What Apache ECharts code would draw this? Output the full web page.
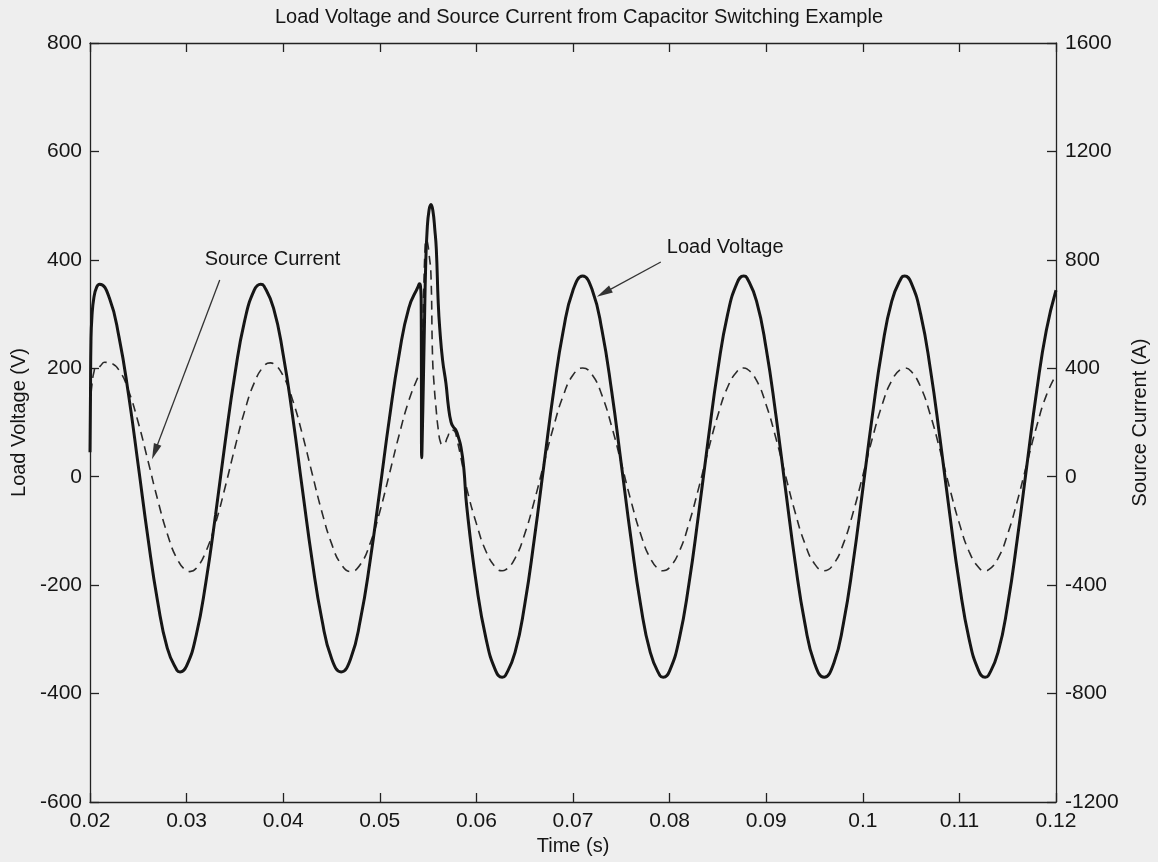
<!DOCTYPE html>
<html>
<head>
<meta charset="utf-8">
<title>Load Voltage and Source Current from Capacitor Switching Example</title>
<script src="https://cdn.jsdelivr.net/npm/echarts@6/dist/echarts.min.js"></script>
<style>
  html, body { margin: 0; padding: 0; background: #eeeeee; }
  #chart { width: 1158px; height: 862px; }
</style>
</head>
<body>
<div id="chart"></div>
<script>
// Load voltage samples (s, V)
const voltageTime = [
  0.0200, 0.02005, 0.0201, 0.0202, 0.0204, 0.0207, 0.0210,
  0.022, 0.023, 0.024, 0.025, 0.026, 0.027, 0.028, 0.029, 0.02933, 0.030, 0.031,
  0.032, 0.033, 0.034, 0.035, 0.036, 0.037, 0.03767, 0.038, 0.039, 0.040, 0.041,
  0.042, 0.043, 0.044, 0.045, 0.046, 0.047, 0.048, 0.049, 0.050, 0.051,
  0.052, 0.053, 0.054,
  0.0541, 0.0542, 0.05428, 0.05434, 0.05445, 0.0546, 0.05475, 0.0549, 0.0551,
  0.0553, 0.0555, 0.0557, 0.05585, 0.05605, 0.0562, 0.0565, 0.05685, 0.0571,
  0.05737, 0.0576, 0.05788, 0.0581, 0.0584, 0.0587,
  0.059, 0.060, 0.061, 0.062, 0.06267, 0.063, 0.064, 0.065, 0.066, 0.067, 0.068, 0.069,
  0.070, 0.071, 0.072, 0.073, 0.074, 0.075, 0.076, 0.077, 0.078, 0.079, 0.07933,
  0.080, 0.081, 0.082, 0.083, 0.084, 0.085, 0.086, 0.087, 0.08767, 0.088, 0.089,
  0.090, 0.091, 0.092, 0.093, 0.094, 0.095, 0.096, 0.097, 0.098, 0.099,
  0.100, 0.101, 0.102, 0.103, 0.104, 0.10433, 0.105, 0.106, 0.107, 0.108, 0.109,
  0.110, 0.111, 0.112, 0.11267, 0.113, 0.114, 0.115, 0.116, 0.117, 0.118, 0.119, 0.120
];
const voltageValues = [
  45, 150, 250, 295, 330, 350, 355,
  330, 258, 150, 20, -113, -230, -316, -357, -360, -349, -292,
  -194, -70, 65, 189, 287, 344, 355, 352, 311, 225, 108,
  -25, -155, -263, -335, -360, -335, -263, -155, -25, 108,
  225, 311, 352,
  356, 353, 330, 35, 120, 260, 390, 455, 492,
  502, 490, 455, 420, 320, 275, 215, 172, 130,
  101, 92, 86, 75, 55, 15,
  -55, -198, -299, -358, -370, -367, -324, -236, -114, 23, 158, 270,
  344, 370, 344, 270, 158, 23, -114, -236, -324, -367, -370,
  -358, -299, -198, -69, 69, 198, 299, 358, 370, 367, 324,
  236, 114, -23, -158, -270, -344, -370, -344, -270, -158,
  -23, 114, 236, 324, 367, 370, 358, 299, 198, 69, -69,
  -198, -299, -358, -370, -367, -324, -236, -114, 23, 158, 270, 344
];

// Source current samples (s, A)
const currentTime = [
  0.0200, 0.0202, 0.0204, 0.0206, 0.0208, 0.0211, 0.0215,
  0.022, 0.023, 0.024, 0.025, 0.026, 0.027, 0.028, 0.029, 0.030, 0.03033, 0.031,
  0.032, 0.033, 0.034, 0.035, 0.036, 0.037, 0.038, 0.03867, 0.039, 0.040, 0.041,
  0.042, 0.043, 0.044, 0.045, 0.046, 0.047, 0.048, 0.049, 0.050, 0.051,
  0.052, 0.053, 0.054,
  0.0542, 0.0543, 0.0544, 0.05455, 0.0547, 0.0548, 0.05495, 0.0551, 0.05529,
  0.05546, 0.0556, 0.05581, 0.05605, 0.05632, 0.0566, 0.0570, 0.0574, 0.0577,
  0.0580, 0.0584, 0.0587,
  0.059, 0.060, 0.061, 0.062, 0.06267, 0.063, 0.064, 0.065, 0.066, 0.067, 0.068, 0.069,
  0.070, 0.071, 0.072, 0.073, 0.074, 0.075, 0.076, 0.077, 0.078, 0.079, 0.07933,
  0.080, 0.081, 0.082, 0.083, 0.084, 0.085, 0.086, 0.087, 0.08767, 0.088, 0.089,
  0.090, 0.091, 0.092, 0.093, 0.094, 0.095, 0.096, 0.097, 0.098, 0.099,
  0.100, 0.101, 0.102, 0.103, 0.104, 0.10433, 0.105, 0.106, 0.107, 0.108, 0.109,
  0.110, 0.111, 0.112, 0.11267, 0.113, 0.114, 0.115, 0.116, 0.117, 0.118, 0.119, 0.120
];
const currentValues = [
  255, 340, 385, 402, 400, 410, 422,
  420, 393, 316, 199, 59, -84, -210, -302, -347, -350, -338,
  -276, -171, -37, 107, 241, 346, 408, 420, 417, 372, 280,
  154, 11, -129, -246, -323, -350, -323, -246, -129, 11,
  154, 280, 372,
  385, 388, 470, 690, 850, 875, 862, 820, 750,
  443, 350, 258, 175, 123, 118, 145, 172, 170,
  135, 70, 15,
  -43, -173, -276, -335, -347, -344, -301, -211, -89, 50, 186, 300,
  375, 401, 375, 300, 186, 50, -89, -211, -301, -344, -347,
  -335, -276, -173, -43, 97, 227, 330, 389, 401, 398, 355,
  265, 143, 4, -132, -246, -321, -347, -321, -246, -132,
  4, 143, 265, 355, 398, 401, 389, 330, 227, 97, -43,
  -173, -276, -335, -347, -344, -301, -211, -89, 50, 186, 300, 375
];

// Axis ranges and tick steps
const timeRange = [0.02, 0.12, 0.01];
const voltageRange = [-600, 800, 200];
const currentRange = [-1200, 1600, 400];

// Annotations: [text, label anchor [t, V], arrow start [t, V], arrow tip [t, V]]
const notes = [
  ['Source Current', [0.03188, 400], [0.03343, 363], [0.02671, 46]],
  ['Load Voltage', [0.07971, 422], [0.07909, 396], [0.0732, 339]]
];

const FONT = '"Liberation Sans", Arial, Helvetica, sans-serif';
const INK = '#151515';

function zip(xs, ys) { return xs.map((x, i) => [x, ys[i]]); }

const chart = echarts.init(document.getElementById('chart'), null, { renderer: 'canvas' });

const tickLabel = { fontFamily: FONT, fontSize: 21, color: INK };
const axisLine = { show: true, onZero: false, lineStyle: { color: '#222', width: 1.3 } };
const axisTick = { show: true, inside: true, length: 9, lineStyle: { color: '#222', width: 1.3 } };
const nameStyle = { fontFamily: FONT, fontSize: 20, color: INK };

chart.setOption({
  backgroundColor: '#eeeeee',
  animation: false,
  title: {
    text: 'Load Voltage and Source Current from Capacitor Switching Example',
    left: 574,
    textAlign: 'center',
    top: 2,
    textStyle: { fontFamily: FONT, fontSize: 20, fontWeight: 'normal', color: INK }
  },
  grid: { left: 90, right: 100, top: 43, bottom: 60, containLabel: false },
  xAxis: [
    {
      type: 'value', position: 'bottom',
      min: timeRange[0], max: timeRange[1], interval: timeRange[2],
      name: 'Time (s)', nameLocation: 'middle', nameGap: 34,
      nameTextStyle: nameStyle,
      axisLine, axisTick,
      axisLabel: Object.assign({ margin: 9, formatter: v => String(+v.toFixed(2)) }, tickLabel),
      splitLine: { show: false }
    },
    {
      type: 'value', position: 'top',
      min: timeRange[0], max: timeRange[1], interval: timeRange[2],
      axisLine, axisTick,
      axisLabel: { show: false },
      splitLine: { show: false }
    }
  ],
  yAxis: [
    {
      type: 'value', position: 'left',
      min: voltageRange[0], max: voltageRange[1], interval: voltageRange[2],
      name: 'Load Voltage (V)', nameLocation: 'middle', nameGap: 58, nameRotate: 90,
      nameTextStyle: nameStyle,
      axisLine, axisTick,
      axisLabel: Object.assign({ margin: 8, formatter: v => String(v) }, tickLabel),
      splitLine: { show: false }
    },
    {
      type: 'value', position: 'right',
      min: currentRange[0], max: currentRange[1], interval: currentRange[2],
      name: 'Source Current (A)', nameLocation: 'middle', nameGap: 74, nameRotate: 90,
      nameTextStyle: nameStyle,
      axisLine, axisTick,
      axisLabel: Object.assign({ margin: 9, formatter: v => String(v) }, tickLabel),
      splitLine: { show: false }
    }
  ],
  series: [
    {
      name: 'Source Current',
      type: 'line',
      xAxisIndex: 0, yAxisIndex: 1,
      data: zip(currentTime, currentValues),
      showSymbol: false,
      smooth: 0.5,
      lineStyle: { color: '#2a2a2a', width: 1.6, type: [9, 6] },
      z: 2
    },
    {
      name: 'Load Voltage',
      type: 'line',
      xAxisIndex: 0, yAxisIndex: 0,
      data: zip(voltageTime, voltageValues),
      showSymbol: false,
      smooth: 0.5,
      lineStyle: { color: '#161616', width: 3 },
      z: 3,
      markLine: {
        silent: true,
        symbol: ['none', 'triangle'],
        symbolSize: [8, 16],
        label: { show: false },
        lineStyle: { color: '#333', width: 1.3, type: 'solid' },
        data: notes.map(n => [{ coord: n[2] }, { coord: n[3] }])
      },
      markPoint: {
        silent: true,
        symbol: 'circle',
        symbolSize: 0,
        label: {
          show: true, position: 'right', distance: 0,
          formatter: '{b}',
          fontFamily: FONT, fontSize: 20, color: INK
        },
        data: notes.map(n => ({ name: n[0], coord: n[1] }))
      }
    }
  ]
});
</script>
</body>
</html>
